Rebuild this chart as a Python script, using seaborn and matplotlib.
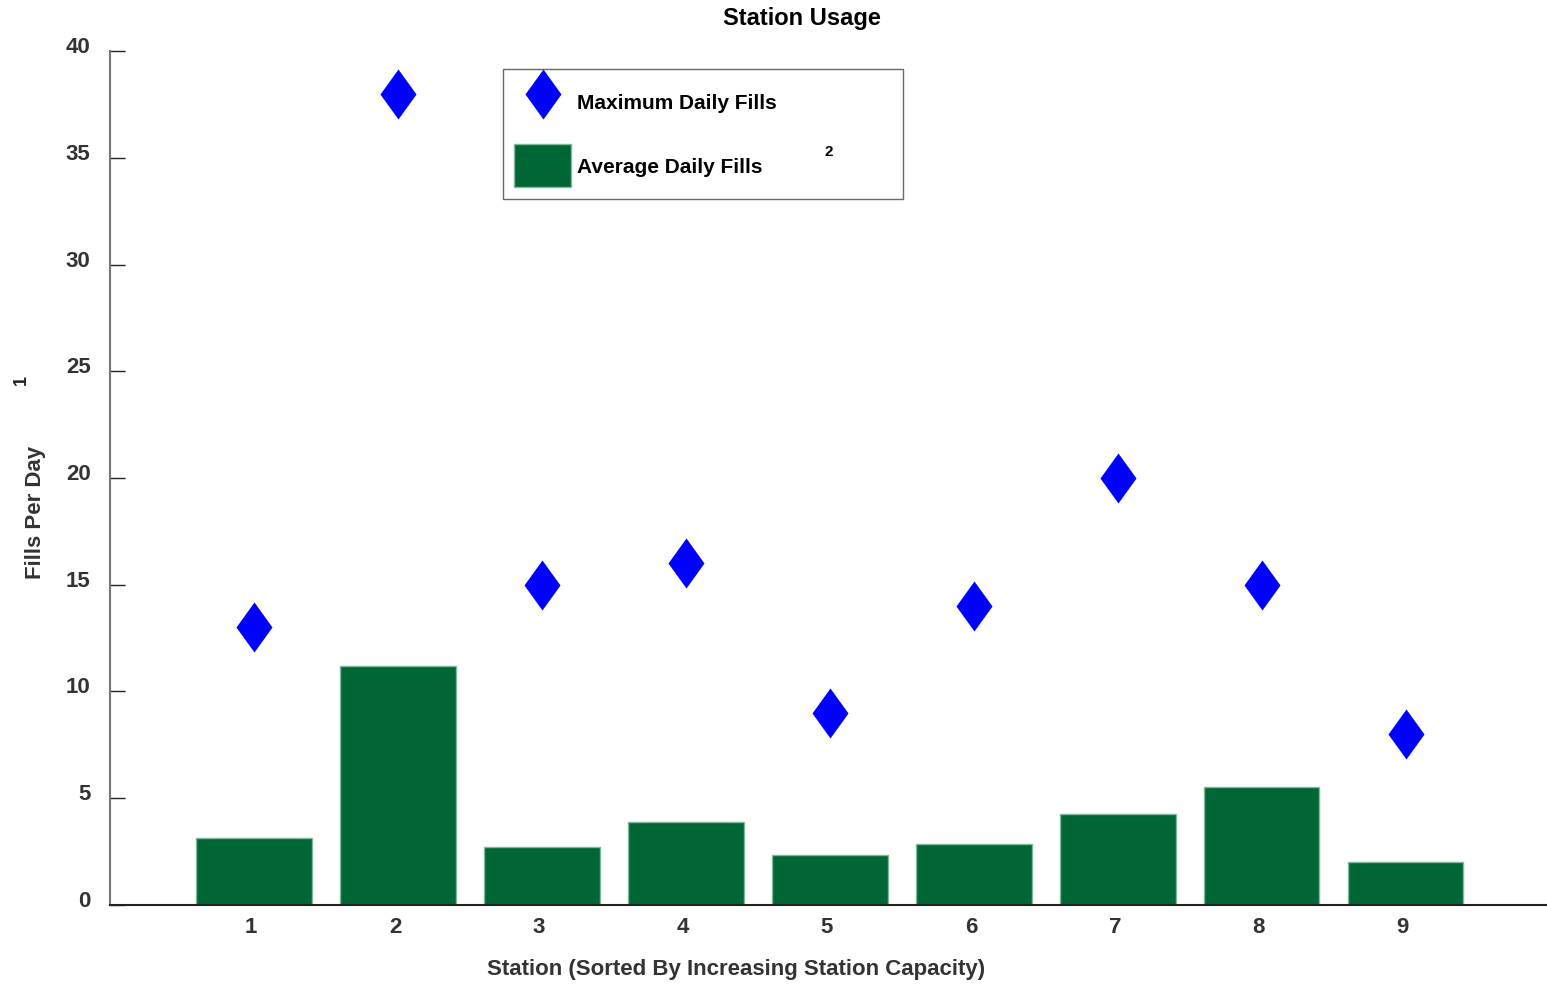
import matplotlib
matplotlib.use("Agg")
import matplotlib.pyplot as plt
import matplotlib.transforms as mtransforms
from matplotlib.path import Path
from matplotlib.lines import Line2D
from matplotlib.patches import Patch
import seaborn as sns
import pandas as pd

stations = ["1", "2", "3", "4", "5", "6", "7", "8", "9"]
avg_fills = [3.14, 11.2, 2.72, 3.88, 2.34, 2.86, 4.26, 5.53, 2.02]
max_fills = [13, 38, 15, 16, 9, 14, 20, 15, 8]

green = "#006633"
blue = "#0000FF"

sns.set_style("white")
plt.rcParams["font.family"] = ["Liberation Sans", "DejaVu Sans"]
plt.rcParams["font.weight"] = "bold"

df = pd.DataFrame({"station": stations, "avg": avg_fills, "max": max_fills})

# diamond a bit narrower than tall, like the original
diamond = Path([(0, 1), (0.72, 0), (0, -1), (-0.72, 0), (0, 1)],
               [Path.MOVETO, Path.LINETO, Path.LINETO, Path.LINETO, Path.CLOSEPOLY])

fig = plt.figure(figsize=(15.47, 9.87), dpi=100)
ax = fig.add_axes([0.0711, 0.0821, 0.9289, 0.8652])

sns.barplot(data=df, x="station", y="avg", order=stations, color=green,
            saturation=1, width=0.8, edgecolor="#7fb89a", linewidth=1, ax=ax)
sns.stripplot(data=df, x="station", y="max", order=stations, jitter=False,
              marker=diamond, size=36, color=blue, linewidth=0, ax=ax, zorder=5)

ax.set_xlim(-1, 8.98)
ax.set_ylim(0, 40)
ax.set_yticks([0, 5, 10, 15, 20, 25, 30, 35, 40])

for s in ["top", "right"]:
    ax.spines[s].set_visible(False)
ax.spines["left"].set_color("#777777")
ax.spines["left"].set_linewidth(1.5)
ax.spines["bottom"].set_color("#222222")
ax.spines["bottom"].set_linewidth(1.5)

ax.tick_params(axis="y", direction="in", length=11, width=1, color="#222222",
               pad=14, labelsize=16, labelcolor="#333333", left=True)
ax.tick_params(axis="x", length=0, pad=8, labelsize=16, labelcolor="#333333")

# labels sit a little off their ticks in the original
up = mtransforms.ScaledTranslation(0, 0.07, fig.dpi_scale_trans)
left = mtransforms.ScaledTranslation(-0.03, 0, fig.dpi_scale_trans)
for lab in ax.get_yticklabels():
    lab.set_fontweight("bold")
    lab.set_transform(lab.get_transform() + up)
for lab in ax.get_xticklabels():
    lab.set_fontweight("bold")
    lab.set_transform(lab.get_transform() + left)

ax.set_xlabel("Station (Sorted By Increasing Station Capacity)", fontsize=16,
              fontweight="bold", color="#333333")
ax.set_ylabel("Fills Per Day", fontsize=16, fontweight="bold", color="#333333")
ax.xaxis.set_label_coords(0.4356, -0.0625)
ax.yaxis.set_label_coords(-0.0443, 0.461)

fig.text(802 / 1547, 1 - 18 / 987, "Station Usage", ha="center", va="center",
         fontsize=17, fontweight="bold", color="black")

# stray footnote markers from the original
fig.text(21 / 1547, 1 - 380 / 987, "1", rotation=90, ha="center", va="center",
         fontsize=13, fontweight="bold", color="#222222")
fig.text(829 / 1547, 1 - 152 / 987, "2", ha="center", va="center",
         fontsize=11, fontweight="bold", color="black")

handles = [
    Line2D([], [], linestyle="none", marker=diamond, markersize=36,
           markerfacecolor=blue, markeredgewidth=0),
    Patch(facecolor=green, edgecolor="#7fb89a"),
]
leg = ax.legend(handles, ["Maximum Daily Fills", "Average Daily Fills"],
                loc="upper left",
                bbox_to_anchor=(393 / 1437, 1 - 153 / 854, 400 / 1437, 135 / 854),
                mode="expand", frameon=True, fancybox=False, edgecolor="#444444",
                prop={"size": 15, "weight": "bold"}, handlelength=2.7,
                handleheight=2.8, handletextpad=0.3, labelspacing=1.0,
                borderpad=0.55, borderaxespad=0)
leg.get_frame().set_linewidth(1)
for t in leg.get_texts():
    t.set_color("black")

fig.savefig("out.png", dpi=100)
